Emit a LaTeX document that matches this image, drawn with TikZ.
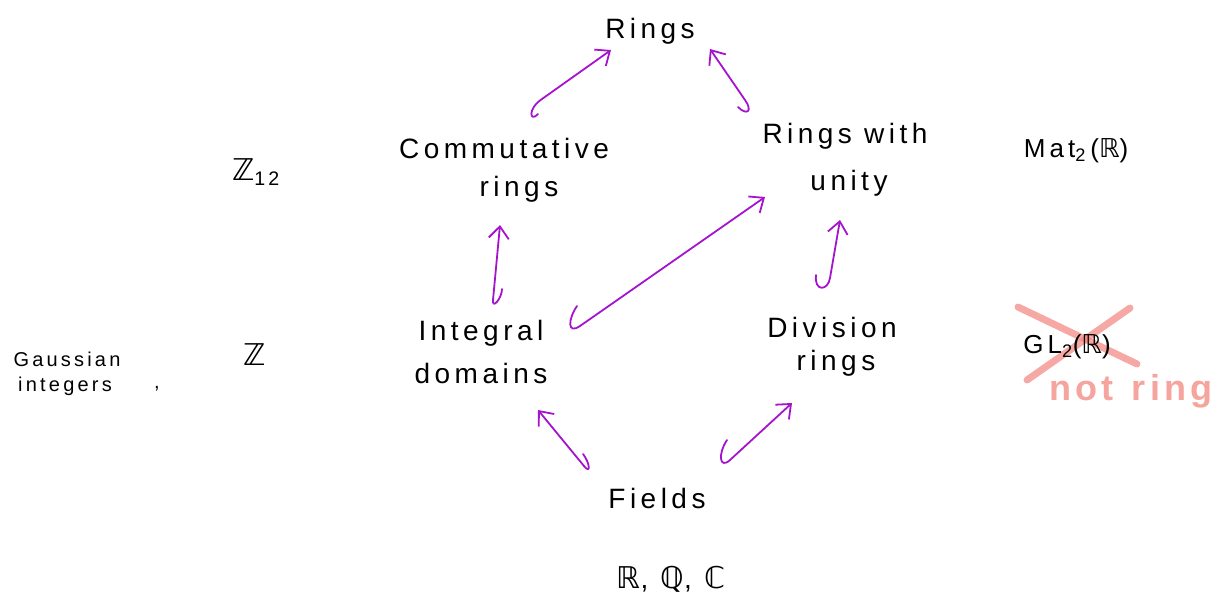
\documentclass[tikz,border=0pt]{standalone}
\usepackage{fontspec}
\usetikzlibrary{arrows.meta}
\newfontfamily\hand{Liberation Sans}[LetterSpace=16]
\newfontfamily\handb{Liberation Sans}[LetterSpace=12]
\newfontfamily\dbl{DejaVu Sans}
\definecolor{arrpurple}{RGB}{165,20,205}
\definecolor{crosspink}{RGB}{242,133,125}
\begin{document}
\begin{tikzpicture}[x=1pt,y=-1pt,
  lbl/.style={anchor=base, inner sep=0pt, font=\hand\fontsize{28}{32}\selectfont},
  small/.style={anchor=base, inner sep=0pt, font=\hand\fontsize{20}{24}\selectfont},
  mlbl/.style={anchor=base, inner sep=0pt, font=\hand\fontsize{26}{30}\selectfont},
  notring/.style={anchor=base, inner sep=0pt, text=crosspink, opacity=0.75, font=\handb\bfseries\fontsize{36}{40}\selectfont},
  arr/.style={draw=arrpurple, line width=1.8pt, line cap=round, line join=round, -{Straight Barb[length=12pt,width=20pt]}},
  cross/.style={draw=crosspink, opacity=0.7, line width=7pt, line cap=round}]
\useasboundingbox (0,0) rectangle (1225,598);

% labels
\node[lbl] (rings) at (650,38) {Rings};
\node[lbl] (comm) at (504,158) {Commutative};
\node[lbl] (commB) at (519,196) {rings};
\node[lbl] (unity) at (845,143) {Rings with};
\node[lbl] (unityB) at (849,190) {unity};
\node[lbl] (integ) at (481,340) {Integral};
\node[lbl] (integB) at (481,383) {domains};
\node[lbl] (div) at (832,337) {Division};
\node[lbl] (divB) at (836,370) {rings};
\node[lbl] (fields) at (657,508) {Fields};
\node[lbl] (rqc) at (671,588) {{\dbl\fontsize{30}{34}\selectfont ℝ}, {\dbl\fontsize{30}{34}\selectfont ℚ}, {\dbl\fontsize{30}{34}\selectfont ℂ}};
\node[lbl] (z12) at (256,180) {{\dbl\fontsize{30}{34}\selectfont ℤ}\textsubscript{12}};
\node[lbl] (zz) at (255,365) {\dbl\fontsize{30}{34}\selectfont ℤ};
\node[small] (gauss) at (67,366) {Gaussian};
\node[small] (gaussB) at (65,391) {integers};
\node[small] (comma) at (157,388) {,};
\node[mlbl] (mat) at (1076,157) {Mat\textsubscript{2}\,({\dbl ℝ})};

% crossed out GL2
\coordinate (c1a) at (1018,307);
\coordinate (c1b) at (1137,364);
\coordinate (c2a) at (1027,380);
\coordinate (c2b) at (1130,308);
\draw[cross] (c1a) -- (c1b);
\draw[cross] (c2a) -- (c2b);
\node[mlbl] (gl) at (1067,353) {GL\textsubscript{2}({\dbl ℝ})};
\node[notring] (nr) at (1131,400) {not\hspace{18pt}ring};

% arrows
\coordinate (a1t) at (538,114); \coordinate (a1j) at (542,99); \coordinate (a1h) at (611,50);
\draw[arr] (a1t) .. controls +(-8,9) and +(-15,10) .. (a1j) -- (a1h);

\coordinate (a2t) at (738,107); \coordinate (a2j) at (745,100); \coordinate (a2h) at (710,49);
\draw[arr] (a2t) .. controls +(9,9) and +(8,11) .. (a2j) -- (a2h);

\coordinate (a3t) at (502,289); \coordinate (a3j) at (493,300); \coordinate (a3h) at (500,225);
\draw[arr] (a3t) .. controls +(0,9) and +(-1,10) .. (a3j) -- (a3h);

\coordinate (a4t) at (577,306); \coordinate (a4j) at (580,326); \coordinate (a4h) at (765,197);
\draw[arr] (a4t) .. controls +(-9,13) and +(-13,9) .. (a4j) -- (a4h);

\coordinate (a5t) at (816,275); \coordinate (a5j) at (830,278); \coordinate (a5h) at (840,220);
\draw[arr] (a5t) .. controls +(-2,17) and +(-2,13) .. (a5j) -- (a5h);

\coordinate (a6t) at (583,454); \coordinate (a6j) at (584,466); \coordinate (a6h) at (538,410);
\draw[arr] (a6t) .. controls +(7,9) and +(7,9) .. (a6j) -- (a6h);

\coordinate (a7t) at (727,440); \coordinate (a7j) at (730,460); \coordinate (a7h) at (792,403);
\draw[arr] (a7t) .. controls +(-9,13) and +(-11,10) .. (a7j) -- (a7h);
\end{tikzpicture}
\end{document}
